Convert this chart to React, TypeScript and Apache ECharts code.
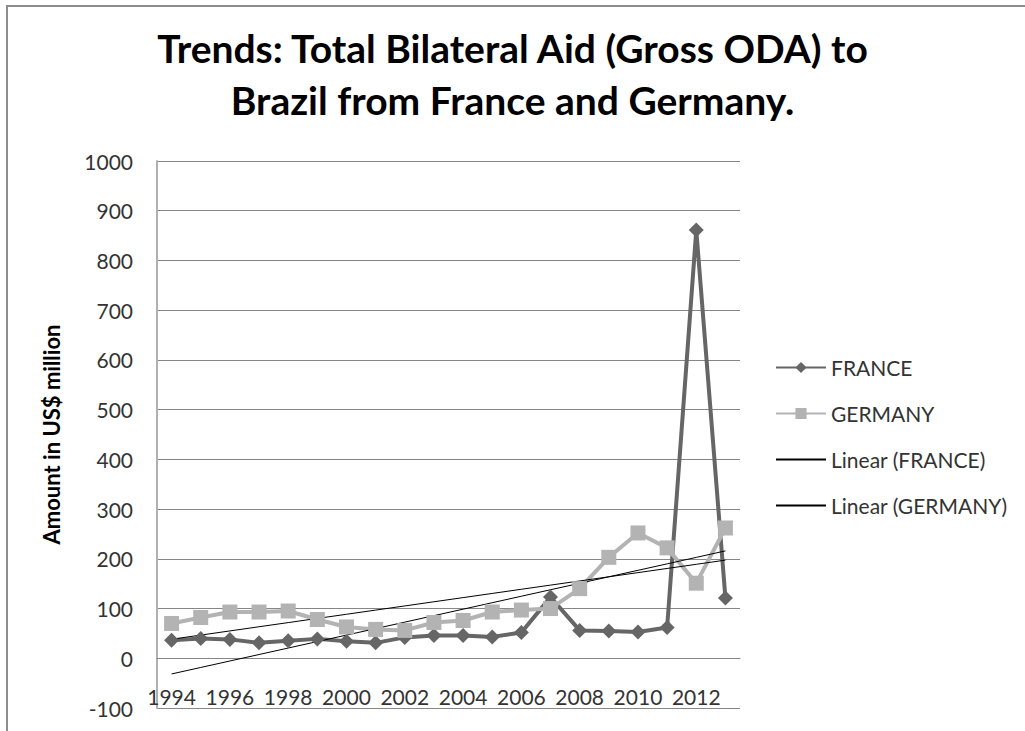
import React, { useEffect, useRef } from "react";
import * as echarts from "echarts";

const years = ["1994","1995","1996","1997","1998","1999","2000","2001","2002","2003","2004","2005","2006","2007","2008","2009","2010","2011","2012","2013"];
const france = [36,40,38,31,35,39,34,31,42,46,46,43,52,123,56,55,53,62,861,121];
const germany = [70,82,93,93,95,78,63,58,56,72,76,93,97,100,140,203,252,222,151,262];
const yTicks = { min: -100, max: 1000, interval: 100 };

function linearTrend(values: number[]): number[] {
  const n = values.length;
  const mx = (n - 1) / 2;
  const my = values.reduce((a, b) => a + b, 0) / n;
  let sxy = 0, sxx = 0;
  values.forEach((v, i) => { sxy += (i - mx) * (v - my); sxx += (i - mx) * (i - mx); });
  const slope = sxy / sxx;
  const icpt = my - slope * mx;
  return values.map((_, i) => +(icpt + slope * i).toFixed(2));
}

const FONT = "Lato, 'Open Sans', sans-serif";

export default function App() {
  const ref = useRef<HTMLDivElement>(null);
  useEffect(() => {
    document.body.style.margin = "0";
    const chart = echarts.init(ref.current!, undefined, { renderer: "svg" });
    chart.setOption({
      animation: false,
      backgroundColor: "#ffffff",
      textStyle: { fontFamily: FONT },
      title: {
        text: "Trends: Total Bilateral Aid (Gross ODA) to\nBrazil from France and Germany.",
        left: "center",
        top: 17,
        textStyle: { fontFamily: FONT, fontSize: 39, fontWeight: "bold", color: "#000", lineHeight: 52 },
      },
      graphic: [
        { type: "polyline", shape: { points: [[7, 731], [7, 6], [1025, 6]] }, style: { stroke: "#8c8c8c", lineWidth: 2, fill: "none" } },
      ],
      legend: {
        orient: "vertical",
        left: 770,
        top: 352,
        itemWidth: 50,
        itemHeight: 14,
        itemGap: 25,
        textStyle: { fontFamily: FONT, fontSize: 21, color: "#333", lineHeight: 20 },
        data: [
          "FRANCE",
          "GERMANY",
          { name: "Linear (FRANCE)", itemStyle: { opacity: 0 } },
          { name: "Linear (GERMANY)", itemStyle: { opacity: 0 } },
        ],
      },
      grid: { left: 157, top: 161, right: 285, bottom: 23, containLabel: false, outerBoundsMode: "none" },
      xAxis: {
        type: "category",
        data: years,
        boundaryGap: true,
        offset: -50,
        axisLine: { onZero: false, lineStyle: { color: "#868686", width: 1 } },
        axisTick: { show: false },
        axisLabel: { interval: 1, fontSize: 21, color: "#333", margin: 28, fontFamily: FONT },
      },
      yAxis: {
        type: "value",
        min: yTicks.min,
        max: yTicks.max,
        interval: yTicks.interval,
        name: "Amount in US$ million",
        nameLocation: "middle",
        nameGap: 95,
        nameRotate: 90,
        nameTextStyle: { fontFamily: FONT, fontSize: 22, fontWeight: "bold", color: "#000" },
        axisLine: { show: true, lineStyle: { color: "#b0b0b0", width: 2 } },
        axisTick: { show: false },
        axisLabel: { fontSize: 21, color: "#333", margin: 24, fontFamily: FONT, formatter: (v: number) => String(v) },
        splitLine: { show: true, lineStyle: { color: "#868686", width: 1 } },
      },
      series: [
        {
          name: "FRANCE",
          type: "line",
          data: france,
          symbol: "diamond",
          symbolSize: 15,
          lineStyle: { color: "#666666", width: 4 },
          itemStyle: { color: "#666666" },
        },
        {
          name: "GERMANY",
          type: "line",
          data: germany,
          symbol: "rect",
          symbolSize: 15,
          lineStyle: { color: "#b3b3b3", width: 4 },
          itemStyle: { color: "#b3b3b3" },
        },
        {
          name: "Linear (FRANCE)",
          type: "line",
          data: linearTrend(france),
          symbol: "none",
          lineStyle: { color: "#000", width: 1 },
          itemStyle: { color: "#000" },
        },
        {
          name: "Linear (GERMANY)",
          type: "line",
          data: linearTrend(germany),
          symbol: "none",
          lineStyle: { color: "#000", width: 1 },
          itemStyle: { color: "#000" },
        },
      ],
    });
    return () => chart.dispose();
  }, []);
  return <div ref={ref} style={{ width: 1025, height: 731 }} />;
}
